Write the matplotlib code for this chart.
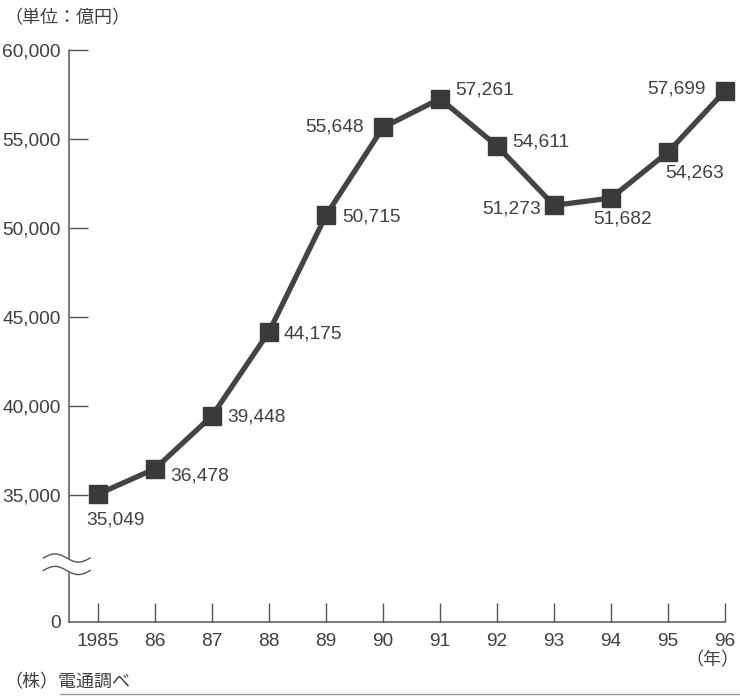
import numpy as np
import matplotlib.pyplot as plt
from matplotlib.transforms import blended_transform_factory

plt.rcParams['font.family'] = ['Liberation Sans', 'Noto Sans CJK JP', 'DejaVu Sans']

years = [1985, 1986, 1987, 1988, 1989, 1990, 1991, 1992, 1993, 1994, 1995, 1996]
xlabels = ['1985', '86', '87', '88', '89', '90', '91', '92', '93', '94', '95', '96']
sales = [35049, 36478, 39448, 44175, 50715, 55648, 57261, 54611, 51273, 51682, 54263, 57699]
# label offsets in pixels (dx, dy) and alignment
label_pos = [(17, -26, 'center'), (15, -7, 'left'), (15, -1, 'left'), (14, -2, 'left'),
             (16, -2, 'left'), (-19, 0, 'right'), (15, 9, 'left'), (15, 4, 'left'),
             (-13, -4, 'right'), (12, -21, 'center'), (27, -21, 'center'), (-19, 2, 'right')]
yticks = [35000, 40000, 45000, 50000, 55000, 60000]

ink = '#404040'
axis_c = '#555555'

fig = plt.figure(figsize=(7.4, 6.98), dpi=100)
ax = fig.add_axes([69 / 740, 76 / 698, (725 - 69) / 740, (622 - 50) / 698])

# bottom of the axis stands for 0; the range 0-35,000 is cut out
y_zero = 35000 - (622 - 495) / 89 * 5000
ax.set_xlim(1984.49, 1996)
ax.set_ylim(y_zero, 60000)

ax.plot(years, sales, color='#444444', lw=3.8, marker='s', ms=13,
        mfc='#3a3a3a', mec='#3a3a3a', zorder=3, clip_on=False)

for x, v, (dx, dy, ha) in zip(years, sales, label_pos):
    ax.annotate(f'{v:,}', (x, v), xytext=(dx, dy), textcoords='offset pixels',
                ha=ha, va='center', fontsize=13.8, color=ink)

for s in ['top', 'right']:
    ax.spines[s].set_visible(False)
for s in ['left', 'bottom']:
    ax.spines[s].set_color(axis_c)
    ax.spines[s].set_linewidth(1.1)

ax.set_yticks([y_zero] + yticks)
ax.set_yticklabels(['0'] + [f'{t:,}' for t in yticks])
ax.set_xticks(years)
ax.set_xticklabels(xlabels)
ax.tick_params(axis='both', direction='in', length=14, width=1.0, color=axis_c,
               labelsize=13.8, labelcolor=ink)
ax.tick_params(axis='y', pad=6)
ax.tick_params(axis='x', pad=8)
# no tick mark for the 0 label
ax.yaxis.get_major_ticks()[0].tick1line.set_visible(False)

# break marks on the value axis
wx = np.linspace(1984.04, 1984.86, 60)
phase = np.linspace(0, 2 * np.pi, 60)
wave_amp = 230
y_hi, y_lo = 31460, 30760
top = y_hi + wave_amp * np.sin(phase)
bot = y_lo + wave_amp * np.sin(phase)
ax.fill_between(wx, bot, top, color='white', zorder=4, clip_on=False)
ax.plot(wx, top, color=axis_c, lw=1.0, zorder=5, clip_on=False)
ax.plot(wx, bot, color=axis_c, lw=1.0, zorder=5, clip_on=False)

fig.text(4 / 740, 1 - 18 / 698, '（単位：億円）', fontsize=13, color=ink,
         va='center', ha='left', family=['Noto Sans CJK JP'])
fig.text(739 / 740, 1 - 660 / 698, '（年）', fontsize=13, color=ink,
         va='center', ha='right', family=['Noto Sans CJK JP'])
fig.text(4 / 740, 1 - 682 / 698, '（株）電通調べ', fontsize=13, color=ink,
         va='center', ha='left', family=['Noto Sans CJK JP'])

# rule along the foot of the page
trans = blended_transform_factory(fig.transFigure, fig.transFigure)
fig.add_artist(plt.Line2D([60 / 740, 1], [1 - 694 / 698] * 2, transform=trans,
                          color='#999999', lw=1.0))

fig.savefig('out.png', dpi=100)
